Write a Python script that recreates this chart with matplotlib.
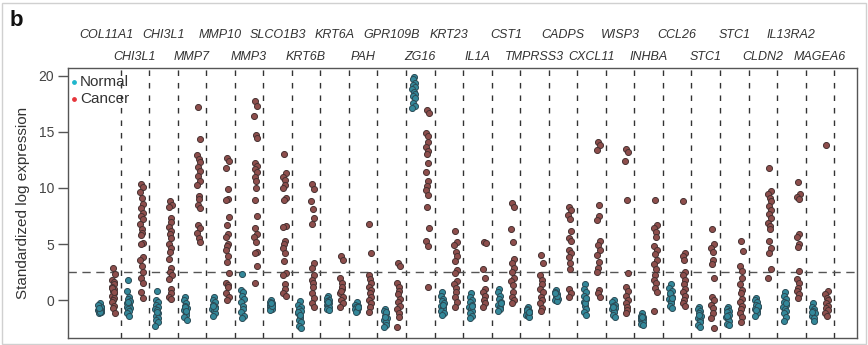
import matplotlib
matplotlib.use("Agg")
import matplotlib.pyplot as plt
from matplotlib.transforms import blended_transform_factory
from matplotlib.patches import Rectangle

plt.rcParams['font.family'] = ['Liberation Sans', 'DejaVu Sans']

# ---------------- data ----------------
genes = ["COL11A1", "CHI3L1", "CHI3L1", "MMP7", "MMP10", "MMP3", "SLCO1B3", "KRT6B",
         "KRT6A", "PAH", "GPR109B", "ZG16", "KRT23", "IL1A", "CST1", "TMPRSS3",
         "CADPS", "CXCL11", "WISP3", "INHBA", "CCL26", "STC1", "STC1", "CLDN2",
         "IL13RA2", "MAGEA6"]

n_COL11A1 = [-0.3, -0.5, -0.6, -0.7, -0.8, -0.9, -1.0, -1.1, -1.2, -0.6, -0.8, -1.0, -0.4, -0.9, -1.1, -0.7]
c_COL11A1 = [2.9, 2.3, 1.8, 1.6, 1.4, 1.2, 1.0, 0.8, 0.6, 0.4, 0.2, 0.0, -0.2, -0.5, -0.7, -1.2, 1.1, 0.7]
n_CHI3L1a = [1.8, 0.8, 0.3, 0.1, -0.1, -0.3, -0.4, -0.5, -0.6, -0.7, -0.8, -1.0, -1.2, -1.4, -0.2]
c_CHI3L1a = [10.4, 10.1, 9.6, 9.1, 8.6, 8.2, 7.8, 7.5, 7.2, 6.8, 6.3, 6.0, 5.8, 5.1, 5.0, 3.8, 3.6, 3.0, 2.5, 2.0, 1.5, 0.7, 0.2]
n_CHI3L1b = [0.8, 0.0, -0.2, -0.4, -0.6, -0.8, -1.0, -1.2, -1.4, -1.6, -1.8, -2.0, -2.3, -0.9, -1.1]
c_CHI3L1b = [8.8, 8.5, 8.3, 7.3, 7.0, 6.5, 6.2, 5.9, 5.5, 5.0, 4.6, 4.3, 3.7, 2.9, 2.5, 2.2, 1.9, 1.0, 0.6, 0.3, 0.1]
n_MMP7 = [0.3, 0.0, -0.3, -0.5, -0.7, -0.9, -1.1, -1.3, -1.5, -1.8, -0.6, -1.0]
c_MMP7 = [17.2, 14.4, 12.9, 12.6, 12.3, 11.9, 11.5, 11.1, 10.6, 10.3, 9.3, 9.0, 8.5, 8.2, 6.7, 6.4, 6.0, 5.5, 5.2]
n_MMP10 = [0.3, 0.0, -0.2, -0.4, -0.6, -0.8, -1.0, -1.2, -1.4, -0.7, -0.5]
c_MMP10 = [12.7, 12.4, 11.8, 9.9, 9.0, 8.9, 7.4, 6.7, 5.9, 5.6, 5.0, 4.8, 4.5, 3.9, 3.4, 2.4, 1.5, 1.3, 1.2, 0.6, 0.3, 0.0]
n_MMP3 = [2.3, 0.9, 0.7, 0.4, 0.1, -0.2, -0.5, -0.8, -1.1, -1.4, -1.6]
c_MMP3 = [17.8, 17.3, 16.4, 14.7, 14.5, 12.2, 12.0, 11.7, 11.4, 11.0, 10.6, 10.0, 8.9, 7.5, 6.4, 5.9, 5.6, 5.2, 4.3, 4.2, 3.0, 1.5]
n_SLCO1B3 = [0.0, -0.2, -0.3, -0.4, -0.5, -0.6, -0.7, -0.8, -0.9, -0.5, -0.3]
c_SLCO1B3 = [13.0, 11.3, 11.0, 10.7, 10.3, 10.0, 9.1, 8.9, 6.6, 6.5, 5.3, 5.0, 4.6, 4.2, 3.5, 2.4, 2.2, 1.4, 1.0, 0.6, 0.4]
n_KRT6B = [-0.1, -0.4, -0.6, -0.8, -1.0, -1.2, -1.4, -1.6, -1.8, -2.0, -2.3, -2.5, -1.1, -1.3]
c_KRT6B = [10.4, 9.9, 8.8, 8.1, 7.3, 6.8, 3.3, 2.9, 2.2, 1.8, 1.5, 1.2, 0.6, 0.2, -0.3, -0.6]
n_KRT6A = [0.4, 0.2, 0.0, -0.1, -0.3, -0.4, -0.5, -0.6, -0.8, -0.9, -0.2]
c_KRT6A = [3.9, 3.6, 2.0, 1.5, 1.0, 0.6, 0.3, 0.0, -0.3, -0.6, 1.2, 0.8]
n_PAH = [-0.2, -0.4, -0.5, -0.6, -0.7, -0.8, -0.9, -1.0, -1.1, -0.6]
c_PAH = [6.8, 4.2, 2.2, 1.9, 1.5, 1.2, 0.9, 0.6, 0.3, 0.0, -0.3, -0.6, -1.1]
n_GPR109B = [-0.8, -1.0, -1.2, -1.4, -1.6, -1.8, -2.0, -2.2, -2.4, -1.1, -1.5]
c_GPR109B = [3.3, 3.0, 1.5, 1.2, 0.8, 0.5, 0.1, -0.2, -0.5, -0.8, -1.2, -1.5, -2.4]
n_ZG16 = [19.9, 19.7, 19.4, 19.2, 19.0, 18.8, 18.6, 18.4, 18.2, 18.0, 17.6, 17.3, 17.1]
c_ZG16 = [17.0, 16.7, 14.9, 14.6, 14.1, 13.7, 13.3, 13.0, 12.2, 11.4, 10.6, 10.2, 9.8, 9.4, 8.3, 6.4, 5.3, 4.8, 1.2]
n_KRT23 = [0.7, 0.4, 0.1, -0.1, -0.3, -0.5, -0.6, -0.8, -1.0, -1.2, -1.3, -0.4]
c_KRT23 = [6.2, 5.2, 4.9, 4.3, 3.9, 3.5, 2.7, 2.4, 1.7, 1.4, 1.1, 0.7, 0.3, -0.2, -0.6]
n_IL1A = [0.6, 0.3, 0.0, -0.2, -0.4, -0.6, -0.8, -1.0, -1.2, -1.4, -1.6, -0.5]
c_IL1A = [5.2, 5.1, 2.8, 2.0, 1.0, 0.7, 0.4, 0.0, -0.3, -0.6]
n_CST1 = [1.0, 0.7, 0.4, 0.1, -0.2, -0.4, -0.6, -0.8, -1.0, -0.3]
c_CST1 = [8.7, 8.3, 6.3, 5.2, 3.7, 3.3, 2.9, 2.5, 2.0, 1.7, 1.3, 0.7, 0.3, 0.0, -0.3]
n_TMPRSS3 = [-0.6, -0.8, -1.0, -1.1, -1.2, -1.3, -1.4, -1.5, -0.9, -1.1]
c_TMPRSS3 = [4.0, 3.3, 2.2, 1.8, 1.4, 1.0, 0.7, 0.3, 0.0, -0.3, -0.7, -1.0]
n_CADPS = [0.9, 0.7, 0.5, 0.3, 0.1, 0.0, -0.1, 0.4, 0.6]
c_CADPS = [8.3, 8.0, 7.6, 7.2, 6.2, 5.5, 5.3, 4.5, 4.2, 3.8, 3.3, 2.8, 1.0, 0.6, 0.3]
n_CXCL11 = [1.4, 1.0, 0.7, 0.4, 0.1, -0.2, -0.5, -0.8, -1.1, -1.3, -0.3, 0.2]
c_CXCL11 = [14.1, 13.8, 13.4, 8.5, 7.5, 7.1, 5.3, 4.9, 4.5, 4.0, 3.4, 2.9, 2.5, 0.9, 0.6, 0.3]
n_WISP3 = [0.0, -0.2, -0.4, -0.5, -0.7, -0.8, -1.0, -1.1, -1.3, -1.5, -0.6]
c_WISP3 = [13.5, 13.2, 12.4, 8.9, 2.4, 1.2, 0.8, 0.4, 0.0, -0.3, -0.6, -0.9, -1.2]
n_INHBA = [-1.2, -1.4, -1.5, -1.6, -1.7, -1.8, -1.9, -2.0, -2.1, -2.2, -1.5]
c_INHBA = [8.9, 6.7, 6.4, 6.1, 5.6, 4.8, 4.5, 4.1, 3.6, 3.2, 2.8, 2.2, 1.8, 1.5, 1.1, 0.7, -1.0]
n_CCL26 = [1.4, 1.1, 0.8, 0.5, 0.3, 0.1, -0.1, -0.3, -0.5, -0.7, 0.6, 0.2]
c_CCL26 = [8.8, 4.2, 3.9, 3.6, 2.5, 2.2, 1.8, 1.4, 1.0, 0.7, 0.4, 0.0, -0.3, -0.5]
n_STC1a = [-0.6, -0.8, -1.0, -1.2, -1.4, -1.6, -1.8, -2.0, -2.2, -2.4, -1.3]
c_STC1a = [6.3, 5.0, 4.6, 4.3, 3.6, 3.2, 2.0, 0.3, 0.0, -0.4, -0.7, -1.2, -1.6, -2.5]
n_STC1b = [-0.6, -0.8, -1.0, -1.1, -1.3, -1.5, -1.7, -1.9, -2.1, -2.2, -1.4]
c_STC1b = [5.3, 4.4, 3.0, 2.6, 2.0, 1.4, 0.9, 0.6, 0.1, -0.2, -0.5, -0.8, -1.2, -1.5, -2.0]
n_CLDN2 = [0.2, 0.0, -0.2, -0.4, -0.6, -0.8, -1.0, -1.2, -1.4, -0.5, -0.9]
c_CLDN2 = [11.8, 9.7, 9.5, 9.1, 8.8, 8.4, 8.0, 7.7, 7.3, 6.9, 6.6, 6.3, 5.3, 4.6, 4.2, 2.8, 2.0]
n_IL13RA2 = [0.7, 0.4, 0.1, -0.2, -0.4, -0.6, -0.8, -1.0, -1.2, -1.5, -1.9, -0.3]
c_IL13RA2 = [10.5, 9.5, 9.2, 9.0, 5.9, 5.6, 5.0, 4.7, 2.6, 1.9, 1.5, 1.1, 0.8, 0.5, 0.2]
n_MAGEA6 = [-0.3, -0.6, -0.8, -1.0, -1.2, -1.4, -1.6, -1.9, -1.1]
c_MAGEA6 = [13.8, 0.8, 0.5, 0.2, 0.0, -0.3, -0.5, -0.7, -0.9, -1.2, -1.4]

threshold = 2.5
yticks = [0, 5, 10, 15, 20]

normal_sets = [n_COL11A1, n_CHI3L1a, n_CHI3L1b, n_MMP7, n_MMP10, n_MMP3, n_SLCO1B3, n_KRT6B,
               n_KRT6A, n_PAH, n_GPR109B, n_ZG16, n_KRT23, n_IL1A, n_CST1, n_TMPRSS3,
               n_CADPS, n_CXCL11, n_WISP3, n_INHBA, n_CCL26, n_STC1a, n_STC1b, n_CLDN2,
               n_IL13RA2, n_MAGEA6]
cancer_sets = [c_COL11A1, c_CHI3L1a, c_CHI3L1b, c_MMP7, c_MMP10, c_MMP3, c_SLCO1B3, c_KRT6B,
               c_KRT6A, c_PAH, c_GPR109B, c_ZG16, c_KRT23, c_IL1A, c_CST1, c_TMPRSS3,
               c_CADPS, c_CXCL11, c_WISP3, c_INHBA, c_CCL26, c_STC1a, c_STC1b, c_CLDN2,
               c_IL13RA2, c_MAGEA6]

# ---------------- figure ----------------
fig = plt.figure(figsize=(8.68, 3.45), dpi=100)
ax = fig.add_axes([68 / 868, 1 - 338 / 345, (857 - 68) / 868, (338 - 68) / 345])

jit = [0.0, -0.04, 0.035, -0.02, 0.05, -0.05, 0.015, 0.03, -0.035, 0.045, -0.015, 0.04, -0.045, 0.02]

normal_face, normal_edge = '#33889a', '#2b4b56'
cancer_face, cancer_edge = '#8e4e4c', '#473232'

for i, (nv, cv) in enumerate(zip(normal_sets, cancer_sets)):
    xn = [i + 0.27 + jit[k % len(jit)] for k in range(len(nv))]
    xc = [i + 0.74 + jit[(k + 3) % len(jit)] for k in range(len(cv))]
    ax.scatter(xn, nv, s=19, facecolor=normal_face, edgecolor=normal_edge, linewidths=0.7, zorder=3)
    ax.scatter(xc, cv, s=19, facecolor=cancer_face, edgecolor=cancer_edge, linewidths=0.7, zorder=3)

for i in range(1, len(genes) + 1):
    ax.axvline(i, color='#333333', lw=1.0, ls=(0, (4, 5)), zorder=1)
ax.axhline(threshold, color='#555555', lw=1.0, ls=(0, (6, 4)), zorder=1)

ax.set_xlim(-0.84, 26.8)
ax.set_ylim(-3.39, 20.71)
ax.set_xticks([])
ax.set_yticks(yticks)
ax.tick_params(axis='y', length=7, width=1, color='#555555', labelsize=10, labelcolor='#444444', pad=3)
for sp in ax.spines.values():
    sp.set_color('#555555')
    sp.set_linewidth(1.0)
ax.set_ylabel('Standardized log expression', fontsize=11, color='#333333', labelpad=6)

trans = blended_transform_factory(ax.transData, ax.transAxes)
for i, g in enumerate(genes):
    yy = 1.122 if i % 2 == 0 else 1.041
    ax.text(i + 0.5, yy, g, transform=trans, ha='center', va='center',
            fontsize=9, style='italic', color='#333333', clip_on=False)

# legend
ax.scatter([0.008], [0.948], s=6, color='#1fb6cc', transform=ax.transAxes, clip_on=False, zorder=5)
ax.scatter([0.008], [0.885], s=6, color='#e6353b', transform=ax.transAxes, clip_on=False, zorder=5)
ax.text(0.015, 0.948, 'Normal', transform=ax.transAxes, fontsize=11, color='#333333', va='center', ha='left')
ax.text(0.015, 0.885, 'Cancer', transform=ax.transAxes, fontsize=11, color='#333333', va='center', ha='left')

fig.text(10 / 868, 1 - 20 / 345, 'b', fontsize=16, fontweight='bold', color='#111111', va='center', ha='left')

fig.patches.append(Rectangle((0.002, 0.002), 0.996, 0.99, transform=fig.transFigure,
                             fill=False, edgecolor='#d0d0d0', lw=1.0))

fig.savefig('out.png', dpi=100)
